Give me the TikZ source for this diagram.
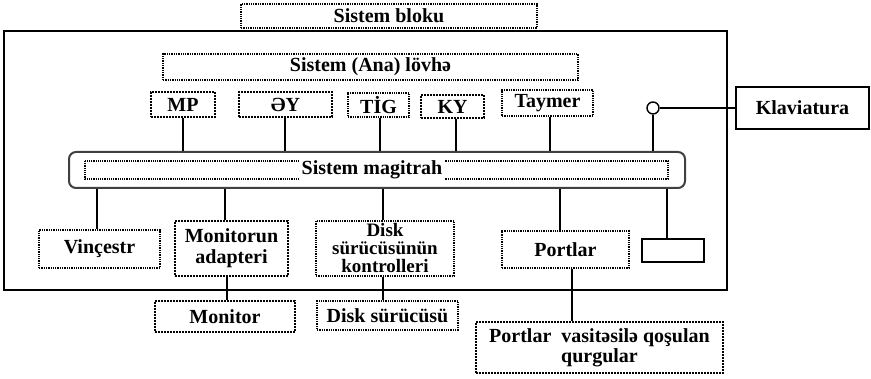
\documentclass[tikz,border=0pt]{standalone}
\usepackage{fontspec}
\setmainfont{Liberation Serif}
\begin{document}
\begin{tikzpicture}[x=1pt,y=-1pt,
  every node/.style={font=\fontsize{20}{19}\selectfont\bfseries, inner sep=0pt, align=center},
  dbox/.style={draw, densely dotted, line width=1.3pt},
  tbox/.style={draw, densely dotted, line width=2pt},
  sbox/.style={draw, line width=1.3pt},
  conn/.style={line width=1.4pt}]
\useasboundingbox (0,0) rectangle (871,379);
% outer system block
\draw[line width=1.5pt] (4,31) rectangle (727,290);
\node[dbox, minimum width=296pt, minimum height=24pt] (bloku) at (389,16) {Sistem bloku};
\node[dbox, minimum width=415pt, minimum height=26pt] (ana) at (370.5,67) {Sistem (Ana) lövhə};
% top row
\node[tbox, minimum width=64pt, minimum height=25pt] (mp) at (183,104.5) {MP};
\node[tbox, minimum width=93pt, minimum height=25pt] (ey) at (285.5,104.5) {ƏY};
\node[dbox, minimum width=61pt, minimum height=24pt] (tig) at (378.5,105) {TİG};
\node[tbox, minimum width=63pt, minimum height=23pt] (ky) at (452.5,106.5) {KY};
\node[dbox, minimum width=91pt, minimum height=26pt] (taymer) at (547.5,103) {Taymer};
\node[draw, circle, line width=1.4pt, minimum size=12pt] (circ) at (653,108) {};
\node[sbox, minimum width=133pt, minimum height=42pt] (klav) at (802.5,108) {Klaviatura};
% bus
\node[draw=black!75, line width=2pt, rounded corners=7pt, minimum width=616pt, minimum height=36pt] (bus) at (377,170) {};
\draw[densely dotted, line width=1.2pt] (85,161) rectangle (668,179);
\node[fill=white, inner xsep=3pt, inner ysep=1pt] (bustext) at (372,170) {Sistem magitrah};
% bottom row
\node[dbox, minimum width=121pt, minimum height=38pt] (vinc) at (99.5,249) {Vinçestr};
\node[tbox, minimum width=113pt, minimum height=55pt, font=\fontsize{20}{21}\selectfont\bfseries] (madap) at (231.5,248.5) {Monitorun\\adapteri};
\node[dbox, minimum width=138pt, minimum height=55pt, font=\fontsize{19}{18}\selectfont\bfseries] (dctrl) at (385,248.5) {Disk\\sürücüsünün\\kontrolleri};
\node[dbox, minimum width=127pt, minimum height=37pt] (portlar) at (565.5,249.5) {Portlar};
\node[sbox, minimum width=62pt, minimum height=23pt] (small) at (673,250.5) {};
% outside
\node[tbox, minimum width=140pt, minimum height=31pt] (monitor) at (225,316.5) {Monitor};
\node[dbox, minimum width=141pt, minimum height=29pt] (disk) at (387.5,315.5) {Disk sürücüsü};
\node[tbox, minimum width=247pt, minimum height=51pt, font=\fontsize{20}{20}\selectfont\bfseries] (pqq) at (599.5,347.5) {Portlar\ \ vasitəsilə qoşulan\\qurgular};
% connector x positions
\coordinate (xmp) at (183,0);
\coordinate (xey) at (285,0);
\coordinate (xtig) at (380,0);
\coordinate (xky) at (456,0);
\coordinate (xtay) at (550,0);
\coordinate (xvin) at (97,0);
\coordinate (xmad) at (225,0);
\coordinate (xmon) at (227,0);
\coordinate (xdc) at (383,0);
\coordinate (xpor) at (560,0);
\coordinate (xpq) at (572,0);
\coordinate (xsm) at (667,0);
% connectors top
\draw[conn] (xmp |- mp.south) -- (xmp |- bus.north);
\draw[conn] (xey |- ey.south) -- (xey |- bus.north);
\draw[conn] (xtig |- tig.south) -- (xtig |- bus.north);
\draw[conn] (xky |- ky.south) -- (xky |- bus.north);
\draw[conn] (xtay |- taymer.south) -- (xtay |- bus.north);
\draw[conn] (circ.south) -- (circ |- bus.north);
\draw[conn] (circ.east) -- (klav.west);
% connectors bottom
\draw[conn] (xvin |- bus.south) -- (xvin |- vinc.north);
\draw[conn] (xmad |- bus.south) -- (xmad |- madap.north);
\draw[conn] (xdc |- bus.south) -- (xdc |- dctrl.north);
\draw[conn] (xpor |- bus.south) -- (xpor |- portlar.north);
\draw[conn] (xsm |- bus.south) -- (xsm |- small.north);
\draw[conn] (xmon |- madap.south) -- (xmon |- monitor.north);
\draw[conn] (xdc |- dctrl.south) -- (xdc |- disk.north);
\draw[conn] (xpq |- portlar.south) -- (xpq |- pqq.north);
\end{tikzpicture}
\end{document}
